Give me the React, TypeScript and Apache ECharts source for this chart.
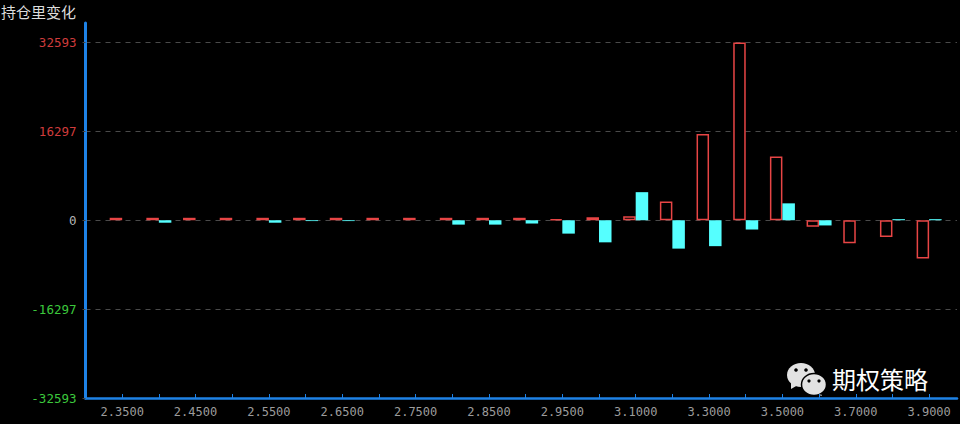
import React, { useEffect, useRef } from "react";
import * as echarts from "echarts";

const strikes = ["2.3500","2.4000","2.4500","2.5000","2.5500","2.6000","2.6500","2.7000","2.7500","2.8000","2.8500","2.9000","2.9500","3.0000","3.1000","3.2000","3.3000","3.4000","3.5000","3.6000","3.7000","3.8000","3.9000"];
const callChange = [450,450,450,450,450,450,450,450,450,450,450,450,200,550,750,3450,15800,32593,11700,-1200,-4200,-3050,-7000];
const putChange = [0,-450,0,0,-450,-150,-150,0,0,-800,-800,-600,-2450,-4050,5150,-5200,-4750,-1700,3100,-950,0,200,200];
const yTicks = [-32593,-16297,0,16297,32593];
const yMin = -32593;
const yMax = 36170;
const title = "持仓里变化";
const watermark = "期权策略";

const tickIdx = strikes.map((_, i) => i);
const labelIdx = tickIdx.filter((i) => i % 2 === 0);
const mono = "'DejaVu Sans Mono', monospace";
const cjk = "'Noto Sans CJK SC', sans-serif";
const bubble = "#e2e2e2";

export default function App() {
  const ref = useRef<HTMLDivElement>(null);
  useEffect(() => {
    document.body.style.margin = "0";
    document.body.style.background = "#000";
    const chart = echarts.init(ref.current!, null, { renderer: "svg" });
    chart.setOption({
      animation: false,
      backgroundColor: "#000000",
      grid: { left: 85.5, right: 3, top: 23, bottom: 26 },
      xAxis: {
        type: "value",
        min: -1,
        max: 22.76,
        splitLine: { show: false },
        axisLine: { onZero: false, lineStyle: { color: "#1e82e6", width: 2.5 } },
        axisTick: { inside: true, length: 4, customValues: tickIdx, lineStyle: { color: "#1e82e6", width: 1 } },
        axisLabel: {
          customValues: labelIdx,
          formatter: (v: number) => strikes[v] ?? "",
          color: "#9c9c9c",
          fontFamily: mono,
          fontSize: 12,
          margin: 8,
        },
      },
      yAxis: {
        type: "value",
        min: yMin,
        max: yMax,
        axisLine: { show: true, onZero: false, lineStyle: { color: "#1e82e6", width: 3 } },
        axisTick: { show: true, length: 3, customValues: yTicks, lineStyle: { color: "#444444", width: 1 } },
        axisLabel: {
          customValues: yTicks,
          formatter: (v: number) => String(v),
          color: (v: any) => (Number(v) > 0 ? "#d03c3c" : Number(v) < 0 ? "#3cc83c" : "#b4b4b4"),
          fontFamily: mono,
          fontSize: 12.5,
          margin: 9,
        },
        splitLine: { show: true, lineStyle: { color: "#4a4a4a", type: [5, 5], width: 1 } },
      },
      series: [
        {
          type: "bar",
          name: "call",
          data: callChange.map((v, i) => [i, v]),
          barWidth: 12.5,
          barGap: 0,
          itemStyle: { color: "#000000", borderColor: "#e84545", borderWidth: 1.5 },
          z: 3,
        },
        {
          type: "bar",
          name: "put",
          data: putChange.map((v, i) => [i, v]),
          barWidth: 12.5,
          barGap: 0,
          itemStyle: { color: "#55ffff" },
          z: 3,
        },
      ],
      graphic: [
        { type: "text", x: 1, y: 4, style: { text: title, fill: "#dcdcdc", font: `15px ${cjk}` } },
        {
          type: "group",
          z: 10,
          children: [
            { type: "polygon", shape: { points: [[791, 382], [791, 389], [798, 385]] }, style: { fill: bubble } },
            { type: "ellipse", shape: { cx: 801, cy: 375, rx: 14, ry: 12 }, style: { fill: bubble } },
            { type: "circle", shape: { cx: 796, cy: 370, r: 1.8 }, style: { fill: "#000" } },
            { type: "circle", shape: { cx: 806, cy: 370, r: 1.8 }, style: { fill: "#000" } },
            { type: "polygon", shape: { points: [[819, 390], [822, 396], [813, 393]] }, style: { fill: bubble } },
            { type: "ellipse", shape: { cx: 814, cy: 384.5, rx: 12.5, ry: 11 }, style: { fill: bubble, stroke: "#000", lineWidth: 1.5 } },
            { type: "circle", shape: { cx: 809, cy: 381, r: 1.6 }, style: { fill: "#000" } },
            { type: "circle", shape: { cx: 819, cy: 381, r: 1.6 }, style: { fill: "#000" } },
            { type: "text", x: 832, y: 366, style: { text: watermark, fill: "#ffffff", font: `24px ${cjk}` } },
          ],
        },
      ],
    });
    return () => chart.dispose();
  }, []);
  return <div ref={ref} style={{ width: 960, height: 424 }} />;
}
